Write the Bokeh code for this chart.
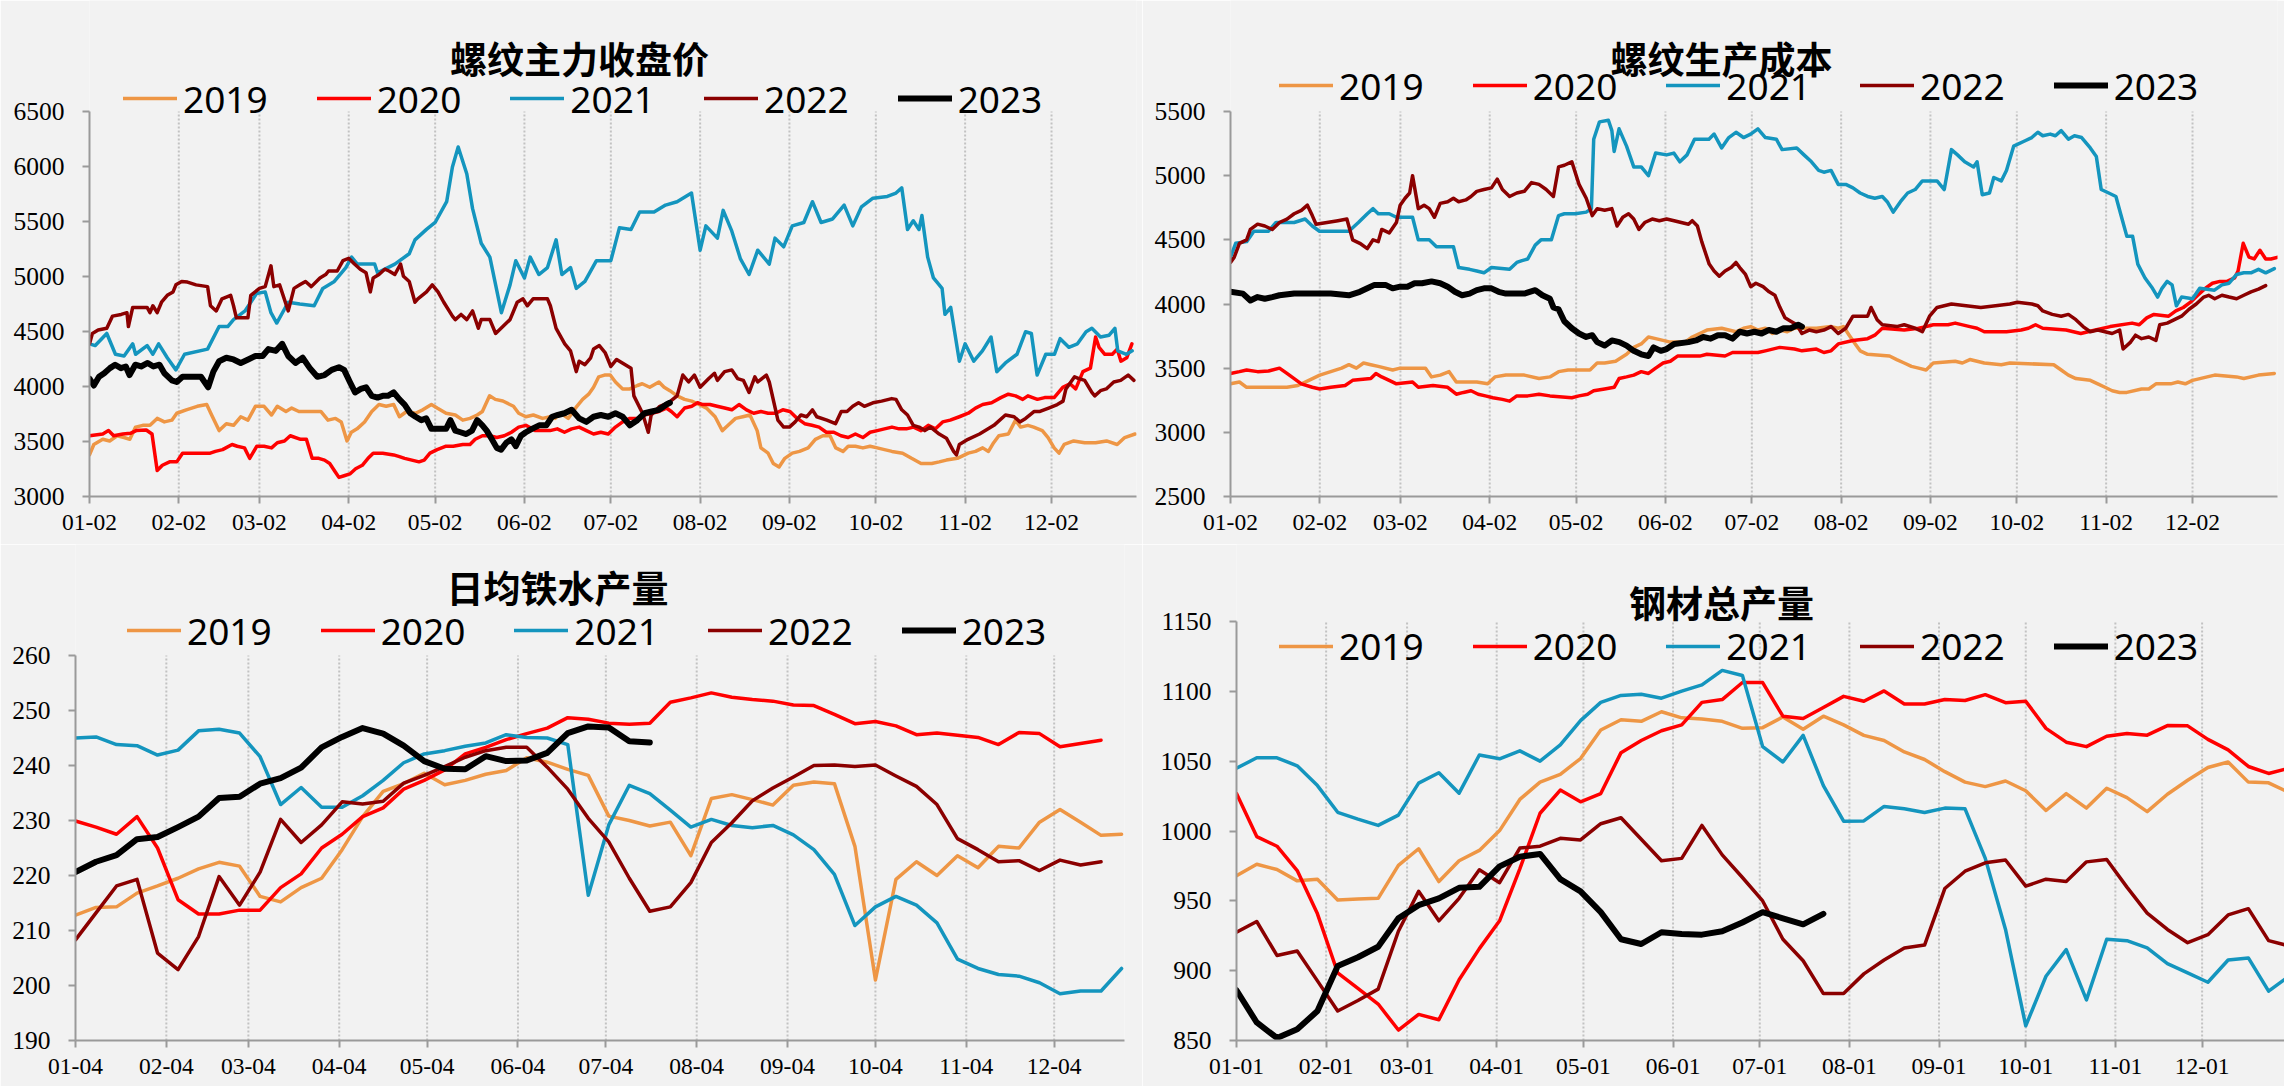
from bokeh.plotting import figure
from bokeh.models import Range1d, FixedTicker, Legend, LegendItem, Label
from bokeh.layouts import column, row
from bokeh.embed import file_html
from bokeh.resources import INLINE

# ---------------- data ----------------
YEARS = ["2019", "2020", "2021", "2022", "2023"]

ticks_02 = [2, 33, 61, 92, 122, 153, 183, 214, 245, 275, 306, 336]
labels_02 = ["01-02", "02-02", "03-02", "04-02", "05-02", "06-02", "07-02", "08-02", "09-02", "10-02", "11-02", "12-02"]
ticks_04 = [4, 35, 63, 94, 124, 155, 185, 216, 247, 277, 308, 338]
labels_04 = ["01-04", "02-04", "03-04", "04-04", "05-04", "06-04", "07-04", "08-04", "09-04", "10-04", "11-04", "12-04"]
ticks_01 = [1, 32, 60, 91, 121, 152, 182, 213, 244, 274, 305, 335]
labels_01 = ["01-01", "02-01", "03-01", "04-01", "05-01", "06-01", "07-01", "08-01", "09-01", "10-01", "11-01", "12-01"]

# 螺纹主力收盘价 (day of year, price)
rb2019 = [(2,3378),(3.5,3473),(6.6,3520),(9,3505),(11.6,3552),(14,3536),(16,3520),(18,3631),(20.5,3647),(23,3647),(25.5,3710),(28,3678),(30.6,3694),(32.3,3757),(35.6,3788),(39.4,3820),(42.7,3836),(44.4,3741),(47,3599),(49.5,3662),(52,3647),(54.5,3725),(57,3694),(59.6,3820),(62.6,3820),(65.2,3741),(67.2,3820),(70.2,3773),(72.2,3804),(74.7,3773),(78.5,3773),(82.3,3773),(84.8,3694),(87.4,3710),(89.4,3678),(91.4,3505),(92.9,3584),(94.9,3615),(97.5,3678),(100,3773),(102.5,3836),(105,3820),(107.6,3836),(109.6,3725),(112.1,3773),(115.2,3757),(117.7,3788),(120.7,3836),(122.7,3804),(125.8,3757),(129,3741),(131.6,3694),(134.1,3710),(136.6,3741),(138.4,3773),(140.9,3915),(142.9,3883),(145.5,3868),(149.2,3820),(151,3757),(153.5,3725),(156.1,3741),(159.3,3710),(161.9,3725),(163.6,3710),(165.7,3757),(168.2,3710),(171.2,3820),(173.2,3883),(175.3,3930),(177,3993),(178.8,4088),(180.8,4104),(182.8,4104),(184.6,4041),(187.1,3978),(189.6,3978),(192.2,4009),(193.9,4025),(196.5,3993),(199.7,4041),(201.5,3993),(203.5,3962),(206,3915),(208.6,3883),(211.1,3867),(213.6,3836),(216.2,3804),(219.2,3725),(221.7,3599),(223.7,3647),(226.3,3710),(228.8,3725),(231.3,3741),(233.8,3599),(235.1,3442),(237.6,3394),(239.4,3300),(241.4,3268),(243.4,3347),(246,3394),(248.5,3410),(251.5,3442),(254,3520),(256.6,3552),(259.1,3552),(261.1,3442),(263.6,3410),(265.4,3457),(267.9,3457),(270.5,3442),(273,3457),(275.5,3442),(278,3426),(280.6,3410),(284.3,3394),(287.4,3347),(290.7,3300),(294.4,3300),(297,3315),(299.5,3331),(303.3,3347),(307.1,3394),(309.6,3410),(312.1,3442),(314.1,3410),(315.9,3489),(317.7,3552),(321,3568),(323.5,3694),(325.3,3631),(327.8,3647),(329.8,3631),(332.8,3599),(334.8,3536),(336.9,3442),(338.6,3394),(340.4,3473),(343.7,3505),(347.5,3489),(351.3,3489),(355.1,3505),(358.8,3473),(361.4,3536),(365,3568)]
rb2020 = [(2,3552),(6.6,3568),(8.6,3599),(10.4,3552),(13.6,3568),(16.2,3574),(18.2,3599),(21.7,3605),(23.7,3568),(25.5,3237),(27.3,3284),(29.8,3315),(32.3,3315),(34.3,3394),(39.4,3394),(43.9,3394),(45.7,3410),(48.2,3426),(51.5,3473),(53.3,3457),(55.8,3442),(57.6,3347),(60.1,3457),(62.6,3457),(65.2,3442),(67.2,3489),(69.7,3505),(71.7,3552),(75.3,3520),(77.3,3520),(79.3,3347),(81.6,3347),(83.6,3331),(85.4,3300),(87.4,3221),(88.6,3174),(90.4,3189),(92.4,3205),(94.4,3252),(96.7,3284),(98.7,3347),(100.5,3394),(103.8,3394),(107.6,3378),(109.6,3363),(111.4,3347),(113.9,3331),(116.4,3315),(118.2,3331),(120.2,3394),(122.7,3426),(125.8,3457),(128.3,3457),(131.6,3473),(134.1,3473),(135.9,3520),(138.4,3552),(140.9,3552),(143.4,3536),(146,3552),(148.5,3584),(151,3631),(153.5,3647),(156.8,3599),(159.3,3599),(161.9,3599),(164.4,3615),(166.9,3584),(169.4,3615),(172,3631),(174.5,3599),(177,3568),(179.5,3584),(182.1,3568),(184.6,3631),(187.1,3678),(189.6,3710),(192.2,3710),(194.7,3741),(197.2,3757),(199.7,3773),(202.3,3804),(204,3773),(206,3725),(208.6,3804),(211.1,3820),(213.1,3852),(214.9,3836),(217.4,3836),(219.9,3820),(222.5,3804),(225,3788),(227.5,3836),(230.1,3788),(232.6,3757),(235.1,3773),(237.6,3757),(240.2,3757),(242.7,3788),(245.2,3773),(247.7,3710),(250.3,3662),(252.8,3647),(255.3,3631),(257.8,3584),(260.4,3584),(262.9,3552),(265.4,3536),(267.9,3568),(270.5,3536),(273,3584),(275.5,3599),(278,3615),(280.6,3631),(283.1,3615),(285.6,3615),(288.1,3631),(290.7,3599),(293.2,3647),(295.7,3615),(298.2,3678),(300.8,3694),(304,3725),(307.1,3757),(309.6,3804),(312.1,3836),(315.2,3852),(318.4,3899),(321,3930),(323.5,3915),(326,3883),(327.8,3915),(331.1,3883),(333.6,3899),(336.9,3899),(339.9,3993),(342.4,4025),(344.4,3978),(346.9,4135),(349.5,4167),(351.3,4450),(352.5,4356),(354.5,4293),(357.1,4293),(358.8,4340),(360.1,4230),(362.1,4261),(363.9,4388)]
rb2021 = [(2,4388),(4,4372),(8,4482),(11,4293),(14,4277),(17,4388),(18,4293),(22,4372),(24,4293),(26,4388),(29,4261),(32,4151),(35,4293),(43,4340),(47,4545),(50,4545),(52,4608),(56,4687),(60,4845),(63,4860),(65,4671),(67,4577),(71,4766),(75,4750),(80,4734),(83,4892),(87,4955),(91,5081),(93,5176),(95,5113),(101,5113),(102,5034),(108,5113),(113,5207),(115,5333),(119,5428),(122,5491),(126,5680),(128,5996),(130,6178),(133,5932),(135,5617),(138,5302),(141,5176),(145,4671),(148,4924),(150,5144),(153,4987),(155,5176),(158,5018),(161,5081),(164,5333),(166,5018),(169,5081),(171,4892),(174,4955),(178,5144),(183,5144),(186,5444),(190,5428),(193,5586),(198,5586),(202,5649),(206,5680),(211,5759),(214,5239),(216,5460),(220,5349),(222,5601),(225,5412),(228,5160),(231,5018),(234,5239),(238,5113),(240,5349),(243,5270),(246,5460),(250,5491),(253,5680),(256,5491),(260,5523),(264,5649),(267,5460),(270,5633),(274,5712),(279,5728),(282,5759),(284,5806),(286,5428),(288,5507),(290,5428),(291,5554),(293,5176),(295,4987),(298,4892),(299,4656),(301,4719),(304,4230),(306,4388),(309,4230),(312,4324),(315,4450),(317,4135),(320,4214),(324,4293),(327,4498),(329,4482),(331,4104),(334,4293),(337,4293),(339,4435),(342,4356),(345,4388),(348,4498),(350,4529),(353,4450),(356,4466),(358,4529),(359,4324),(362,4293),(364,4324)]
rb2022 = [(2,4388),(3,4482),(5,4514),(8,4529),(10,4640),(13,4655),(15,4671),(15.5,4545),(17,4719),(22,4719),(23,4671),(24,4734),(25.5,4671),(27,4766),(29,4829),(31,4860),(32,4924),(34,4955),(36,4949),(39,4924),(43,4908),(44,4734),(46,4687),(48,4797),(51,4829),(52,4734),(53,4624),(57,4624),(58,4829),(61,4892),(63,4908),(65,5097),(66,4908),(68,4924),(71,4687),(73,4892),(75,4924),(77,4955),(79,4908),(82,4987),(84,5018),(85,5050),(88,5050),(90,5144),(92,5166),(94,5113),(96,5066),(98,5034),(99.5,4860),(100.5,4987),(102.5,5018),(104.5,5066),(106,5050),(108,5018),(110,5113),(111,5002),(113,4955),(115,4766),(116,4797),(119,4860),(121,4924),(123,4860),(125,4766),(128,4640),(129,4608),(131,4655),(133,4608),(135,4687),(137,4529),(138,4608),(141,4608),(143,4482),(145.5,4545),(148,4608),(150.5,4766),(152.5,4797),(154,4734),(156,4797),(159,4797),(161,4797),(162,4734),(164,4529),(167,4388),(169,4324),(171,4135),(172,4230),(174,4198),(176,4261),(177,4340),(179,4372),(181,4309),(183,4182),(185,4246),(187,4214),(190,4167),(191,3915),(194,3757),(196,3584),(197,3741),(200,3820),(203,3852),(206,3915),(208,4104),(210,4041),(212,4104),(214,3993),(217,4072),(219,4120),(220,4056),(222.5,4135),(225,4151),(227,4072),(229,4056),(231,3946),(233,4088),(234,4041),(237,4104),(238,4041),(241,3694),(243,3631),(245,3631),(247,3678),(249,3741),(251,3725),(253,3788),(254.5,3725),(258,3694),(261,3662),(263,3773),(265,3773),(267,3820),(269,3852),(271,3820),(274,3852),(277,3867),(280.5,3890),(282,3883),(284,3788),(286,3741),(288,3647),(290,3631),(292,3599),(294,3631),(297,3568),(299.5,3530),(302,3410),(303,3379),(304,3473),(307,3520),(311,3568),(313,3599),(316,3647),(320,3741),(323,3725),(325,3678),(327,3710),(330,3773),(332,3773),(335,3804),(338,3836),(340,3867),(341,3978),(344,4088),(345.5,4072),(347.5,4056),(350,3946),(351,3915),(353,3962),(355,3978),(357.6,4041),(360,4056),(362.6,4104),(364.6,4056)]
rb2023 = [(2,4072),(3.5,4009),(5.3,4088),(7.1,4120),(9.1,4167),(10.9,4198),(12.9,4167),(14.6,4182),(15.9,4104),(17.9,4198),(19.9,4182),(22.2,4214),(24.2,4182),(26.3,4198),(28,4120),(30.6,4056),(32.3,4041),(34.3,4088),(36.9,4088),(40.7,4088),(43.2,3993),(45,4135),(47,4230),(49.5,4261),(52,4246),(54.5,4214),(57.1,4246),(59.6,4277),(62.1,4277),(64.1,4340),(66.7,4324),(68.9,4388),(71,4277),(73.5,4214),(76,4261),(78.5,4167),(81.1,4088),(83.6,4104),(86.1,4151),(88.6,4175),(90.4,4151),(92.4,4041),(94.2,3946),(96.2,3978),(98,3993),(100,3915),(102,3899),(103.8,3915),(105.6,3915),(107.6,3946),(109.6,3883),(111.4,3836),(113.4,3757),(115.2,3725),(117.2,3694),(118.9,3710),(120.7,3615),(122.7,3615),(125.8,3615),(127.3,3694),(129,3599),(130.8,3584),(132.8,3568),(134.8,3599),(136.6,3694),(138.4,3647),(139.9,3599),(141.7,3520),(143.4,3442),(144.9,3426),(146.7,3489),(148.5,3520),(150,3458),(151.8,3552),(153.5,3584),(155.6,3615),(158.1,3647),(160.6,3647),(162.6,3725),(164.6,3741),(166.9,3757),(169.4,3788),(172,3710),(174.5,3678),(177,3725),(179.5,3741),(182.1,3725),(184.6,3757),(187.1,3725),(189.6,3647),(192.2,3694),(194.7,3757),(197.2,3773),(199.7,3788),(202.3,3836),(203.5,3852)]

# 螺纹生产成本 (day of year, cost)
cost2019 = [(2,3378),(5.1,3392),(7.6,3351),(21.6,3351),(25.4,3365),(29.2,3405),(33,3446),(36.8,3473),(40.6,3500),(43.1,3527),(45.7,3500),(48.2,3540),(50.7,3527),(53.3,3514),(58.3,3486),(60.9,3500),(69.7,3500),(71.8,3432),(74.8,3446),(77.9,3473),(80.4,3392),(87.5,3392),(91.3,3378),(93.8,3432),(97.6,3446),(104,3446),(109.1,3419),(112.9,3432),(115.9,3473),(119.2,3486),(126.8,3486),(129.3,3540),(131.9,3540),(135.7,3554),(139.5,3608),(142,3662),(144.6,3689),(147.1,3743),(149.6,3730),(154.7,3703),(159.8,3703),(162.3,3743),(164.9,3770),(167.4,3797),(172.5,3811),(177.5,3784),(180.1,3811),(182.6,3824),(185.1,3797),(187.7,3811),(190.2,3770),(192.7,3797),(195.3,3784),(197.8,3811),(205.4,3811),(210.5,3824),(213,3811),(214.8,3824),(216.8,3757),(218.9,3689),(220.6,3635),(223.2,3608),(230.8,3595),(233.3,3567),(235.9,3540),(238.4,3514),(240.9,3500),(243.5,3486),(246,3540),(253.6,3554),(256.1,3540),(258.7,3567),(263.7,3540),(269.6,3527),(272.6,3540),(287.8,3527),(290.4,3486),(292.9,3446),(295.5,3419),(300.5,3405),(303.1,3378),(305.6,3351),(308.1,3324),(310.7,3311),(313.2,3311),(318.3,3338),(320.8,3338),(323.3,3378),(328.4,3378),(330.9,3392),(333.5,3378),(336,3405),(341.1,3432),(343.7,3446),(351.3,3432),(353.8,3419),(358.9,3446),(364.4,3459)]
cost2020 = [(2,3459),(5.1,3473),(7.6,3486),(11.4,3473),(15.2,3478),(19,3500),(21.6,3459),(24.1,3419),(26.6,3378),(30.4,3351),(33,3338),(36.8,3351),(41.8,3365),(44.4,3405),(50.7,3419),(52.5,3459),(54.5,3432),(57.1,3405),(59.6,3378),(65.2,3392),(67.2,3351),(72.3,3365),(77.4,3351),(80.4,3297),(82.9,3311),(85.5,3324),(88,3297),(90.5,3284),(93.1,3270),(96.4,3257),(98.9,3243),(101.4,3284),(105.2,3284),(109.1,3297),(112.9,3284),(120.5,3270),(123,3284),(126,3297),(128.1,3324),(131.9,3338),(135.2,3351),(136.9,3419),(139.5,3432),(142,3446),(144.6,3473),(147.1,3459),(149.6,3500),(152.2,3540),(154.7,3554),(157.2,3594),(164.9,3594),(167.4,3608),(173.7,3595),(176.3,3622),(185.1,3622),(187.7,3635),(192.7,3662),(197.8,3649),(200.4,3635),(205.4,3649),(208,3622),(210.5,3635),(213,3689),(218.1,3716),(223.2,3730),(225.7,3757),(228.3,3811),(235.9,3797),(240.9,3811),(243.5,3824),(246,3838),(251.1,3838),(253.6,3851),(258.7,3824),(261.2,3811),(263.7,3784),(271.4,3784),(276.5,3797),(279,3811),(281.5,3838),(284,3811),(292.1,3797),(297.2,3770),(302.3,3797),(307.4,3824),(315,3851),(317.5,3838),(320.1,3892),(322.6,3919),(327.7,3905),(330.2,3946),(332.8,3973),(335.3,4014),(337.8,4068),(340.4,4122),(342.9,4162),(345.5,4176),(348,4176),(350.6,4203),(351.8,4257),(353.6,4473),(355.6,4365),(357.4,4351),(359.4,4419),(361.4,4351),(363.2,4351),(365.7,4365)]
cost2021 = [(2,4365),(3.8,4473),(7.6,4486),(10.1,4567),(15.2,4567),(17.8,4635),(24.1,4635),(27.9,4662),(30.4,4608),(32.9,4567),(43.1,4567),(46.4,4635),(49.5,4703),(51.5,4743),(53.3,4703),(57.1,4703),(59.6,4676),(65.2,4676),(67.2,4500),(71,4500),(73.5,4446),(79.4,4446),(81.2,4284),(85,4270),(87.5,4257),(90,4243),(92.6,4284),(98.9,4270),(101.4,4324),(103.2,4338),(105.2,4351),(107.8,4459),(109.8,4500),(113.4,4500),(115.9,4689),(117.9,4703),(121.7,4703),(125.5,4716),(127.3,4743),(128.1,5284),(130.1,5419),(133.2,5432),(134.4,5351),(135.2,5189),(136.9,5365),(139.5,5230),(142,5068),(144.6,5068),(147.1,5000),(149.6,5176),(153.4,5162),(155.9,5176),(158,5108),(160.5,5162),(163.1,5284),(168.1,5284),(169.9,5324),(172.5,5216),(175,5297),(177.5,5338),(180.1,5297),(182.6,5324),(185.1,5365),(187.7,5297),(191.5,5284),(193.5,5203),(198.6,5216),(201.1,5162),(203.7,5108),(206.2,5041),(208,5027),(210.5,5041),(213,4932),(215.6,4932),(218.1,4905),(220.6,4865),(223.2,4838),(225.7,4824),(228.3,4838),(230,4797),(232.1,4716),(234.6,4797),(237.1,4865),(239.7,4892),(242.2,4959),(247.3,4959),(249.8,4892),(252.3,5203),(254.4,5162),(256.9,5108),(260,5068),(261.2,5108),(263,4851),(265.5,4865),(267,4986),(269.6,4959),(271.4,5041),(273.9,5230),(277.7,5270),(280.2,5297),(282.3,5338),(284,5311),(286.6,5324),(288.4,5311),(290.4,5351),(292.9,5284),(295,5311),(297.5,5297),(300.5,5216),(302.6,5149),(304.3,4892),(306.9,4865),(309.4,4838),(311.2,4689),(313.2,4527),(315.2,4527),(317,4311),(319.5,4203),(322.1,4122),(323.9,4054),(325.4,4122),(327.2,4176),(328.9,4149),(330.4,3986),(332.2,4054),(336,4041),(338.5,4122),(343.6,4108),(346.2,4149),(348.7,4162),(351.3,4230),(353.8,4243),(356.3,4243),(358.9,4270),(361.4,4243),(364.4,4276)]
cost2022 = [(2,4324),(3.3,4365),(5.1,4473),(7.6,4500),(8.9,4581),(11.4,4622),(13.9,4608),(16.5,4581),(19,4635),(21.6,4662),(24.1,4703),(26.6,4730),(28.7,4770),(30.4,4689),(31.7,4622),(35.5,4635),(39.3,4649),(42.4,4662),(44.4,4500),(46.9,4473),(49.5,4432),(51.5,4500),(53.3,4486),(54.5,4581),(57.1,4554),(59.6,4635),(60.9,4770),(62.6,4824),(64.2,4865),(65.2,5000),(67.2,4743),(69.2,4770),(71,4743),(72.8,4676),(74.8,4784),(77.4,4797),(79.4,4824),(81.2,4797),(83.7,4811),(85.5,4838),(87.5,4878),(90,4892),(92.6,4905),(94.6,4973),(96.4,4892),(98.9,4838),(101.4,4865),(104,4878),(106.5,4946),(109.1,4932),(111.6,4892),(114.1,4838),(115.9,5068),(117.9,5081),(120.5,5108),(123,4932),(125.5,4824),(127.6,4689),(129.3,4743),(131.9,4730),(134.4,4743),(136.2,4608),(138.2,4676),(140.2,4703),(142,4662),(143.8,4581),(145.8,4635),(148.4,4662),(150.9,4649),(153.4,4662),(156,4649),(158.5,4635),(161,4622),(162.3,4649),(164.1,4608),(165.6,4486),(168.2,4311),(169.9,4257),(171.7,4216),(173.7,4257),(175.8,4284),(177.5,4324),(178.8,4284),(180.8,4230),(182.6,4135),(184.4,4162),(186.9,4135),(189,4095),(191,4068),(192.7,3976),(194.5,3892),(196.5,3865),(198.6,3838),(200.4,3770),(202.9,3797),(205.4,3784),(208,3797),(210.5,3824),(213,3770),(215.6,3811),(218.1,3905),(223.2,3905),(224.4,3973),(226.5,3878),(228.3,3838),(233.3,3824),(235.9,3838),(239.7,3811),(242.2,3784),(244.7,3905),(247.3,3973),(249.8,3986),(252.3,4000),(257.4,3986),(262.5,3973),(267.6,3986),(272.6,4000),(275.2,4014),(280.2,4000),(282.3,3986),(284,3946),(287.3,3919),(290.4,3905),(292.9,3919),(295.5,3878),(298,3824),(300.5,3784),(303.1,3797),(305.6,3784),(308.1,3770),(310.7,3797),(311.9,3649),(314.5,3703),(316.2,3757),(318.3,3730),(320.8,3743),(323.3,3716),(324.6,3838),(327.2,3851),(329.7,3878),(332.2,3905),(334.8,3959),(337.3,4000),(339.9,4054),(341.6,4068),(343.7,4041),(346.2,4068),(348.7,4054),(351.3,4041),(353.8,4068),(356.3,4095),(358.9,4116),(361.4,4143)]
cost2023 = [(2,4095),(6.3,4081),(8.9,4027),(11.4,4054),(13.9,4041),(16.5,4054),(19,4068),(24.1,4081),(36.8,4081),(43.1,4068),(46.9,4095),(49.5,4122),(52,4149),(55.8,4149),(58.3,4122),(60.9,4135),(63.4,4135),(65.9,4162),(68.5,4162),(71.8,4176),(74.8,4162),(77.4,4135),(79.9,4095),(82.4,4068),(85,4081),(87.5,4108),(90,4122),(92.6,4122),(95.1,4095),(97.6,4081),(104,4081),(107.8,4108),(110.3,4068),(112.9,4041),(114.1,3973),(115.9,3959),(117.9,3865),(120.5,3811),(123,3770),(125.5,3743),(127.6,3757),(129.3,3703),(131.9,3676),(134.4,3716),(137,3703),(139.5,3676),(142,3635),(144.6,3608),(147.1,3595),(148.9,3662),(151.4,3635),(153.4,3649),(156,3689),(161,3703),(163.6,3716),(166.1,3743),(168.7,3730),(171.2,3757),(173.7,3757),(176.3,3730),(178.8,3784),(181.3,3770),(183.9,3784),(186.4,3770),(188.9,3797),(191.5,3784),(194,3811),(196.5,3811),(199.1,3838),(200.4,3824)]

# 日均铁水产量 (weekly, starting 01-04)
iron_days = list(range(4, 365, 7))
iron2019 = [212.8,214.2,214.3,216.8,218.1,219.5,221.2,222.4,221.7,216.2,215.2,217.8,219.5,224.7,230.7,235.3,236.7,238.6,236.5,237.3,238.4,239.1,241.4,240.6,239.3,238.2,230.8,230.0,229.0,229.7,223.6,234.0,234.7,233.8,232.8,236.4,237.0,236.7,225.3,201.0,219.3,222.5,220.0,223.6,221.4,225.3,225.0,229.7,232.0,229.7,227.3,227.5]
iron2020 = [229.9,228.8,227.5,230.7,225.0,215.6,213.0,213.0,213.7,213.7,217.8,220.3,225.0,227.5,230.7,232.3,235.7,237.3,239.2,242.1,243.3,244.7,245.8,246.8,248.7,248.4,247.7,247.5,247.7,251.5,252.3,253.2,252.4,252.0,251.7,251.0,250.9,249.3,247.6,248.0,247.2,245.6,245.9,245.5,245.1,243.8,246.0,245.8,243.4,244.0,244.6]
iron2021 = [245.0,245.2,243.8,243.6,241.9,242.8,246.3,246.6,245.9,241.6,232.9,236.0,232.4,232.4,234.5,237.3,240.5,242.1,242.7,243.5,244.1,245.6,245.1,245.0,243.8,216.4,229.2,236.4,234.9,231.9,228.8,230.2,229.1,228.7,229.1,227.4,224.7,220.2,210.9,214.3,216.2,214.6,211.4,204.8,203.1,202.0,201.7,200.5,198.5,199.0,199.0,203.1]
iron2022 = [208.3,213.2,218.1,219.3,205.9,202.9,208.9,219.8,214.6,220.6,230.2,226.0,229.2,233.4,233.0,233.5,236.8,238.2,239.8,241.5,242.7,243.3,243.3,239.7,235.7,230.4,226.1,219.5,213.5,214.3,218.7,226.0,229.6,233.6,235.9,237.9,240.0,240.1,239.8,240.1,238.1,236.2,232.9,226.7,224.7,222.5,222.7,220.9,222.8,221.9,222.5]
iron2023 = [220.6,222.5,223.7,226.6,227.0,228.8,230.7,234.1,234.3,236.7,237.7,239.6,243.3,245.2,246.8,245.8,243.6,240.8,239.4,239.3,241.7,240.8,240.9,242.3,245.9,247.1,246.9,244.4,244.2]

# 钢材总产量 (weekly, starting 01-01)
steel_days = list(range(1, 372, 7))
steel2019 = [968,976.2,972.4,964.3,965.5,950.6,951.3,951.8,975.4,987.3,963.8,978.7,986.1,1000.3,1022.6,1035.0,1040.5,1051.9,1072.3,1079.7,1078.5,1085.4,1081.0,1080.2,1078.5,1073.5,1074.0,1081.7,1072.8,1082.2,1076.0,1068.5,1064.8,1056.6,1051.2,1042.5,1035.0,1031.8,1035.8,1028.8,1014.7,1026.8,1016.4,1030.6,1023.9,1013.9,1026.3,1036.3,1045.5,1049.4,1035.0,1034.5,1027.6]
steel2020 = [1026.8,996.0,989.1,971.7,940.7,898.5,887.3,876.1,857.5,868.7,864.9,893.5,915.8,935.7,972.9,1012.7,1029.3,1020.9,1026.8,1056.1,1064.8,1071.8,1076.0,1092.1,1094.1,1106.3,1106.3,1082.2,1080.5,1088.4,1096.4,1092.9,1100.3,1090.9,1090.9,1094.1,1093.4,1097.6,1091.9,1092.9,1073.5,1063.6,1060.4,1067.8,1069.8,1068.6,1075.5,1075.3,1065.6,1058.1,1046.2,1041.2,1044.9]
steel2021 = [1044.9,1052.4,1052.4,1046.7,1032.5,1013.4,1008.5,1004.0,1011.4,1034.3,1041.7,1027.1,1054.4,1051.7,1057.4,1050.0,1061.6,1079.0,1092.1,1097.1,1097.9,1095.1,1100.1,1104.6,1115.0,1111.3,1060.4,1049.4,1068.5,1032.5,1007.0,1007.2,1017.6,1015.9,1013.2,1016.4,1015.9,980.4,929.5,860.5,896.0,915.1,879.1,922.5,921.5,916.3,905.1,898.4,891.7,907.6,909.1,885.3,896.0]
steel2022 = [927.5,935.2,910.9,914.1,892.7,871.1,878.6,886.8,928.2,956.8,935.7,951.8,972.2,963.0,987.8,989.1,994.8,993.6,1005.2,1009.5,994.1,978.7,980.4,1004.0,982.9,966.7,949.9,922.5,907.1,883.6,883.6,897.7,907.6,916.3,918.3,958.8,971.2,977.2,979.2,960.5,965.5,963.8,977.9,979.6,959.8,941.2,929.5,920.0,925.8,939.9,944.4,921.5,917.8]
steel2023 = [886.0,862.9,851.8,858.0,871.1,903.4,909.6,917.1,937.5,946.9,951.8,959.3,960.0,974.7,981.6,983.6,965.5,956.8,941.9,922.5,919.1,927.5,926.3,925.8,928.2,934.5,941.9,937.5,933.2,940.7]

# ---------------- styling ----------------
BG = "#f2f2f2"
COLORS = {"2019": "#EE9645", "2020": "#FF0000", "2021": "#1495BE", "2022": "#8B0000", "2023": "#000000"}
WIDTHS = {"2019": 3.5, "2020": 3.5, "2021": 3.5, "2022": 3.5, "2023": 6}
AXIS_COLOR = "#9a9a9a"
LEGEND_HALF = 23


def split(pairs):
    return [a for a, _ in pairs], [b for _, b in pairs]


def weekly(days, vals):
    return days[:len(vals)], vals


def make_panel(title, series, xr, ylim, yticks, xticks, xlabels, size, borders, top_px, title_xy, legend_xy):
    """top_px: pixels between canvas top and the top tick; the frame reaches the canvas top so
    the title and legend sit inside it (annotations are clipped to the frame)."""
    w, h = size
    bl, br, bb = borders
    ymin, ymax = ylim
    plot_h = h - bb - top_px
    ytop = ymax + top_px * (ymax - ymin) / plot_h
    p = figure(width=w, height=h, x_range=Range1d(*xr), y_range=Range1d(ymin, ytop),
               output_backend="svg", toolbar_location=None,
               min_border_left=bl, min_border_right=br, min_border_top=0, min_border_bottom=bb)
    p.background_fill_color = BG
    p.border_fill_color = BG
    p.outline_line_color = None
    p.grid.grid_line_color = None
    # vertical dotted guide lines, only over the value range
    gx = xticks[1:]
    p.segment(x0=gx, y0=[ymin] * len(gx), x1=gx, y1=[ymax] * len(gx),
              line_color="#c2c2c2", line_dash="2 2", line_width=2)
    for ax in (p.xaxis[0], p.yaxis[0]):
        ax.axis_line_color = AXIS_COLOR
        ax.axis_line_width = 2
        ax.major_tick_line_color = AXIS_COLOR
        ax.major_tick_line_width = 2
        ax.major_tick_in = 0
        ax.major_tick_out = 7
        ax.minor_tick_line_color = None
        ax.major_label_text_font = "Liberation Serif"
        ax.major_label_text_color = "#000000"
    p.xaxis.ticker = FixedTicker(ticks=xticks)
    p.xaxis.major_label_overrides = {t: s for t, s in zip(xticks, xlabels)}
    p.xaxis.major_label_text_font_size = "23.5px"
    p.xaxis.major_label_standoff = 11
    p.yaxis.ticker = FixedTicker(ticks=yticks)
    p.yaxis.bounds = (ymin, ymax)
    p.yaxis.major_label_text_font_size = "25.5px"
    p.yaxis.major_label_standoff = 18

    items = []
    for yname in YEARS:
        xs, vs = series[yname]
        r = p.line(xs, vs, line_color=COLORS[yname], line_width=WIDTHS[yname],
                   line_join="round", line_cap="round")
        items.append(LegendItem(label=yname, renderers=[r]))
    leg = Legend(items=items, location=(legend_xy[0], legend_xy[1] - LEGEND_HALF), orientation="horizontal",
                 glyph_width=54, glyph_height=30, label_standoff=6, spacing=49,
                 padding=0, margin=0, border_line_color=None, background_fill_alpha=0,
                 label_text_font="Noto Sans", label_text_font_size="37px", label_text_color="#000000")
    p.add_layout(leg)
    p.add_layout(Label(x=title_xy[0], y=title_xy[1], x_units="screen", y_units="screen", text=title,
                       text_font="Noto Sans CJK SC", text_font_style="bold", text_font_size="37px",
                       text_color="#000000", text_align="center", text_baseline="middle"))
    return p


p1 = make_panel("螺纹主力收盘价",
                {"2019": split(rb2019), "2020": split(rb2020), "2021": split(rb2021),
                 "2022": split(rb2022), "2023": split(rb2023)},
                (2, 365.5), (3000, 6500), list(range(3000, 6501, 500)), ticks_02, labels_02,
                (1142, 544), (89, 6, 48), 111, (490, 438.5), (34, 395.4))
p2 = make_panel("螺纹生产成本",
                {"2019": split(cost2019), "2020": split(cost2020), "2021": split(cost2021),
                 "2022": split(cost2022), "2023": split(cost2023)},
                (2, 365.5), (2500, 5500), list(range(2500, 5501, 500)), ticks_02, labels_02,
                (1142, 544), (88, 7, 48), 111, (491, 438.5), (49, 408.5))
p3 = make_panel("日均铁水产量",
                {"2019": weekly(iron_days, iron2019), "2020": weekly(iron_days, iron2020),
                 "2021": weekly(iron_days, iron2021), "2022": weekly(iron_days, iron2022),
                 "2023": weekly(iron_days, iron2023)},
                (4, 362), (190, 260), list(range(190, 261, 10)), ticks_04, labels_04,
                (1142, 542), (75, 18, 46), 111, (482, 454), (52, 407.5))
p4 = make_panel("钢材总产量",
                {"2019": weekly(steel_days, steel2019), "2020": weekly(steel_days, steel2020),
                 "2021": weekly(steel_days, steel2021), "2022": weekly(steel_days, steel2022),
                 "2023": weekly(steel_days, steel2023)},
                (1, 363.5), (850, 1150), list(range(850, 1151, 50)), ticks_01, labels_01,
                (1142, 542), (94, 0, 46), 77, (485, 439), (43, 392))

layout = column(row(p1, p2), row(p3, p4))
open("out.html", "w").write(file_html(layout, INLINE))
